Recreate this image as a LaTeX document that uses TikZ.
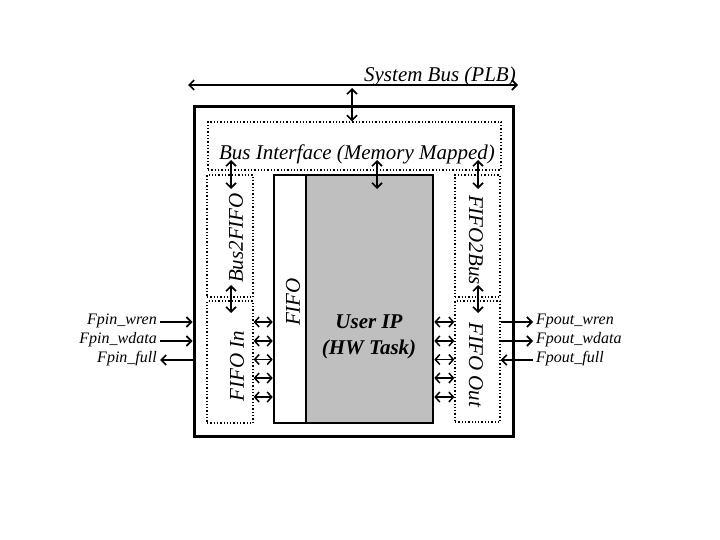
\documentclass[tikz,border=0pt]{standalone}
\usepackage{fontspec}
\setmainfont{Liberation Serif}
\usetikzlibrary{positioning,arrows.meta}

\begin{document}
\begin{tikzpicture}[x=1pt, y=-1pt,
    >={Straight Barb[length=5pt,width=10pt]},
    box/.style={rectangle, draw, dotted, line width=1.3pt, inner sep=0pt},
    core/.style={rectangle, draw, line width=2.6pt, inner sep=0pt},
    lbl/.style={font=\fontsize{21}{25}\selectfont\itshape, inner sep=0pt},
    sig/.style={font=\fontsize{16}{18}\selectfont\itshape, inner sep=3pt},
    link/.style={<->, line width=1.6pt},
    wire/.style={->, line width=1.6pt},
    port/.style={<->, line width=1.5pt, >={Straight Barb[length=4.5pt,width=10pt]}}]

    \useasboundingbox (0,0) rectangle (720,540);

    % system bus
    \coordinate (busW) at (188,85);
    \coordinate (busE) at (518,85);
    \draw [link] (busW) -- (busE);
    \node [lbl, anchor=base east] (buslbl) at (516,82) {System Bus (PLB)};

    % outer frame and blocks
    \node [core, line width=3pt, minimum width=319pt, minimum height=329pt] (outer) at (353.5,271.5) {};
    \node [box, minimum width=293pt, minimum height=48pt] (busif) at (354.5,146) {};
    \node [lbl, anchor=base] (busiflbl) at (357,160) {Bus Interface (Memory Mapped)};

    \node [box, minimum width=46pt, minimum height=122pt] (bus2fifo) at (230,236) {};
    \node [box, minimum width=46pt, minimum height=122pt] (fifoin) at (230,362) {};
    \node [box, minimum width=45pt, minimum height=122pt] (fifo2bus) at (477.5,236) {};
    \node [box, minimum width=45pt, minimum height=121pt] (fifoout) at (477.5,361.5) {};
    \node [lbl, rotate=90] (bus2fifolbl) at (236,238) {Bus2FIFO};
    \node [lbl, rotate=90] (fifoinlbl) at (237,366) {FIFO In};
    \node [lbl, rotate=-90] (fifo2buslbl) at (476,240) {FIFO2Bus};
    \node [lbl, rotate=-90] (fifooutlbl) at (476,365) {FIFO Out};

    \node [core, fill=white, minimum width=32pt, minimum height=248pt] (fifo) at (290,299) {};
    \node [core, fill=gray!50, minimum width=127pt, minimum height=248pt] (userip) at (369.5,299) {};
    \node [lbl, rotate=90] (fifolbl) at (293,302) {FIFO};
    \node [lbl, font=\fontsize{21}{26}\selectfont\bfseries\itshape, align=center] (uiplbl) at (369,337) {User IP\\(HW Task)};

    % bus taps
    \coordinate (tap) at (352,88);
    \draw [link] (tap) -- (tap |- busif.north);
    \foreach \x/\n in {231/b2f, 377/uip, 478/f2b} {
        \coordinate (\n a) at (\x,160);
        \coordinate (\n b) at (\x,189);
        \draw [link] (\n a) -- (\n b);
    }
    \foreach \x/\n in {231/fin, 478/fout} {
        \coordinate (\n a) at (\x,285);
        \coordinate (\n b) at (\x,313);
        \draw [link] (\n a) -- (\n b);
    }

    % fifo ports
    \foreach \y [count=\i] in {322,341,359.5,378,397} {
        \coordinate (p\i) at (0,\y);
        \draw [port] (fifoin.east |- p\i) -- (fifo.west |- p\i);
        \draw [port] (userip.east |- p\i) -- (fifoout.west |- p\i);
    }

    % external signals
    \node [sig, anchor=mid east] (pinwren) at (160,322) {Fpin\_wren};
    \node [sig, anchor=mid east] (pinwdata) at (160,341) {Fpin\_wdata};
    \node [sig, anchor=mid east] (pinfull) at (160,360) {Fpin\_full};
    \draw [wire] (pinwren.mid east) -- (outer.west |- pinwren.mid east);
    \draw [wire] (pinwdata.mid east) -- (outer.west |- pinwdata.mid east);
    \draw [wire] (outer.west |- pinfull.mid east) -- (pinfull.mid east);

    \node [sig, anchor=mid west] (poutwren) at (533,322) {Fpout\_wren};
    \node [sig, anchor=mid west] (poutwdata) at (533,341) {Fpout\_wdata};
    \node [sig, anchor=mid west] (poutfull) at (533,360) {Fpout\_full};
    \draw [wire] (fifoout.east |- poutwren.mid west) -- (poutwren.mid west);
    \draw [wire] (fifoout.east |- poutwdata.mid west) -- (poutwdata.mid west);
    \draw [wire] (poutfull.mid west) -- (fifoout.east |- poutfull.mid west);
\end{tikzpicture}
\end{document}
